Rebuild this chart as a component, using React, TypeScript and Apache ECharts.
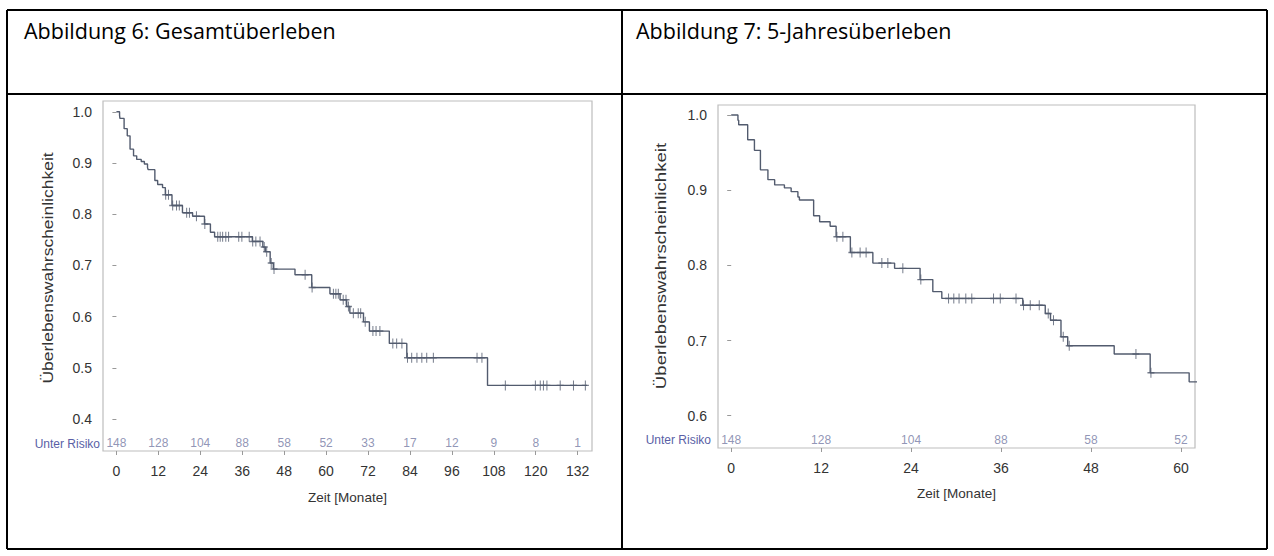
import React, { useEffect, useRef } from "react";
import * as echarts from "echarts";

// ---------- texts ----------
const headerLeft = "Abbildung 6: Gesamtüberleben";
const headerRight = "Abbildung 7: 5-Jahresüberleben";
const yAxisTitle = "Überlebenswahrscheinlichkeit";
const xAxisTitle = "Zeit [Monate]";
const riskLabel = "Unter Risiko";

// ---------- Kaplan-Meier steps (time in months, survival after the step) ----------
const eventTimes = [
  0, 0.9, 1.0, 2.2, 3.1, 3.9, 4.9, 5.8, 7.1, 8.0, 8.9, 9.1, 11.0, 11.8, 13.2, 14.0,
  15.9, 18.9, 21.8, 25.2, 26.9, 28.1, 38.9, 41.9, 42.6, 44.0, 44.9, 51.1, 55.9, 61.1,
  64.0, 65.9, 66.8, 70.7, 72.4, 78.1, 83.1, 106.2, 134.7,
];
const survival = [
  1.0, 0.993, 0.987, 0.967, 0.953, 0.927, 0.914, 0.907, 0.903, 0.898, 0.891, 0.887, 0.866, 0.858, 0.852, 0.838,
  0.817, 0.803, 0.796, 0.781, 0.765, 0.756, 0.747, 0.736, 0.727, 0.705, 0.693, 0.682, 0.657, 0.645,
  0.633, 0.62, 0.607, 0.59, 0.572, 0.548, 0.52, 0.466, 0.466,
];
// censored observations (months)
const censorTimes = [
  14.1, 14.9, 16.1, 17.2, 18.0, 20.1, 20.9, 22.9, 25.3, 29.0, 29.7, 30.4, 31.3, 32.1,
  35.0, 35.9, 38.0, 39.0, 39.9, 41.1, 42.3, 43.0, 44.3, 45.1, 54.0, 56.0, 62.1, 62.8,
  63.5, 64.9, 65.7, 66.4, 67.8, 69.2, 69.9, 71.2, 73.4, 74.3, 75.4, 79.1, 80.2, 81.7,
  83.3, 84.5, 86.0, 87.4, 88.8, 90.7, 103.2, 104.6, 111.3, 119.9, 121.3, 122.2, 123.2,
  127.0, 130.8, 134.2,
];

// ---------- axes ----------
const xTicksLeft = [0, 12, 24, 36, 48, 60, 72, 84, 96, 108, 120, 132];
const xTicksRight = [0, 12, 24, 36, 48, 60];
const yTicksLeft = [0.4, 0.5, 0.6, 0.7, 0.8, 0.9, 1.0];
const yTicksRight = [0.6, 0.7, 0.8, 0.9, 1.0];

// ---------- numbers at risk ----------
const atRiskLeft = [148, 128, 104, 88, 58, 52, 33, 17, 12, 9, 8, 1];
const atRiskRight = [148, 128, 104, 88, 58, 52];

const FONT = "'Liberation Sans', Arial, sans-serif";
const CURVE = "#525b6e";
const RISK_NUM = "#7479a3";
const RISK_LBL = "#5a5fa6";

function survAt(t: number): number {
  let s = survival[0];
  for (let i = 0; i < eventTimes.length; i++) {
    if (eventTimes[i] <= t) s = survival[i];
  }
  return s;
}

function buildOption() {
  const curve = eventTimes.map((t, i) => [t, survival[i]]);
  const censors = censorTimes.map((t) => [t, survAt(t)]);

  const panels = [
    { xTicks: xTicksLeft, yTicks: yTicksLeft, risk: atRiskLeft, riskY: 0.353, xMin: -3.84, xMax: 136.1, yMin: 0.338, yMax: 1.021, fs: 14, xGap: 39 },
    { xTicks: xTicksRight, yTicks: yTicksRight, risk: atRiskRight, riskY: 0.568, xMin: -1.76, xMax: 61.88, yMin: 0.557, yMax: 1.0133, fs: 14, xGap: 38 },
  ];

  const grids = [
    { left: 103, top: 101, width: 489, height: 350 },
    { left: 718, top: 105, width: 477, height: 343 },
  ].map((g) => ({ ...g, show: true, borderColor: "#bdbdbd", borderWidth: 1.2, backgroundColor: "#fff", containLabel: false }));

  const xAxes = panels.map((p, i) => ({
    type: "value",
    gridIndex: i,
    min: p.xMin,
    max: p.xMax,
    name: xAxisTitle,
    nameLocation: "middle",
    nameGap: p.xGap,
    nameTextStyle: { color: "#333", fontSize: 13.5, fontFamily: FONT },
    axisLine: { show: false },
    splitLine: { show: false },
    axisTick: { show: true, length: 4, lineStyle: { color: "#999" }, customValues: p.xTicks },
    axisLabel: { color: "#333", fontSize: p.fs, fontFamily: FONT, margin: 13, customValues: p.xTicks, formatter: (v: number) => String(v) },
  }));

  const yAxes = panels.map((p, i) => ({
    type: "value",
    gridIndex: i,
    min: p.yMin,
    max: p.yMax,
    axisLine: { show: false },
    splitLine: { show: false },
    axisTick: { show: true, length: 4, lineStyle: { color: "#999" }, customValues: p.yTicks },
    axisLabel: { color: "#333", fontSize: p.fs, fontFamily: FONT, margin: 11, customValues: p.yTicks, formatter: (v: number) => v.toFixed(1) },
  }));

  const series: any[] = [];
  panels.forEach((p, i) => {
    series.push({
      type: "line",
      xAxisIndex: i,
      yAxisIndex: i,
      step: "end",
      showSymbol: false,
      clip: true,
      data: curve,
      lineStyle: { color: CURVE, width: 1.4 },
      silent: true,
    });
    series.push({
      type: "scatter",
      xAxisIndex: i,
      yAxisIndex: i,
      clip: true,
      symbol: "path://M5,0L5,10M0,5L10,5",
      symbolSize: [7, 10],
      itemStyle: { color: "transparent", borderColor: CURVE, borderWidth: 1.2 },
      data: censors,
      silent: true,
    });
    series.push({
      type: "scatter",
      xAxisIndex: i,
      yAxisIndex: i,
      clip: false,
      symbolSize: 1,
      itemStyle: { color: "transparent" },
      data: p.xTicks.map((t, k) => [t, p.riskY, p.risk[k]]),
      label: {
        show: true,
        position: "inside",
        formatter: (q: any) => String(q.value[2]),
        color: RISK_NUM,
        fontSize: 12,
        fontFamily: FONT,
      },
      silent: true,
    });
  });

  const line = (x1: number, y1: number, x2: number, y2: number) => ({
    type: "line",
    shape: { x1, y1, x2, y2 },
    style: { stroke: "#000", lineWidth: 2 },
    silent: true,
  });

  const yTitle = (x: number, y: number, stretch: number) => ({
    type: "text",
    x,
    y,
    rotation: Math.PI / 2,
    scaleX: stretch,
    style: { text: yAxisTitle, fill: "#333", font: `14px ${FONT}`, textAlign: "center", textVerticalAlign: "middle" },
    silent: true,
  });

  const graphic = [
    line(7, 10, 1267, 10),
    line(7, 94, 1267, 94),
    line(7, 549, 1267, 549),
    line(7, 10, 7, 549),
    line(622, 10, 622, 549),
    line(1267, 10, 1267, 549),
    {
      type: "text",
      x: 24,
      y: 30,
      style: { text: headerLeft, fill: "#000", font: "21.5px 'Open Sans', 'Noto Sans', sans-serif", textVerticalAlign: "middle" },
    },
    {
      type: "text",
      x: 636,
      y: 30,
      style: { text: headerRight, fill: "#000", font: "21.5px 'Open Sans', 'Noto Sans', sans-serif", textVerticalAlign: "middle" },
    },
    yTitle(48, 268, 1.25),
    yTitle(661, 266, 1.33),
    {
      type: "text",
      x: 100,
      y: 444,
      style: { text: riskLabel, fill: RISK_LBL, font: `12px ${FONT}`, textAlign: "right", textVerticalAlign: "middle" },
    },
    {
      type: "text",
      x: 711,
      y: 440,
      style: { text: riskLabel, fill: RISK_LBL, font: `12px ${FONT}`, textAlign: "right", textVerticalAlign: "middle" },
    },
  ];

  return {
    animation: false,
    backgroundColor: "#fff",
    grid: grids,
    xAxis: xAxes,
    yAxis: yAxes,
    series,
    graphic,
  };
}

export default function App() {
  const ref = useRef<HTMLDivElement>(null);
  useEffect(() => {
    if (!ref.current) return;
    const chart = echarts.init(ref.current, undefined, { renderer: "svg" });
    chart.setOption(buildOption() as any);
    return () => chart.dispose();
  }, []);
  return (
    <div
      ref={ref}
      style={{ position: "fixed", left: 0, top: 0, width: 1274, height: 556, background: "#fff" }}
    />
  );
}
